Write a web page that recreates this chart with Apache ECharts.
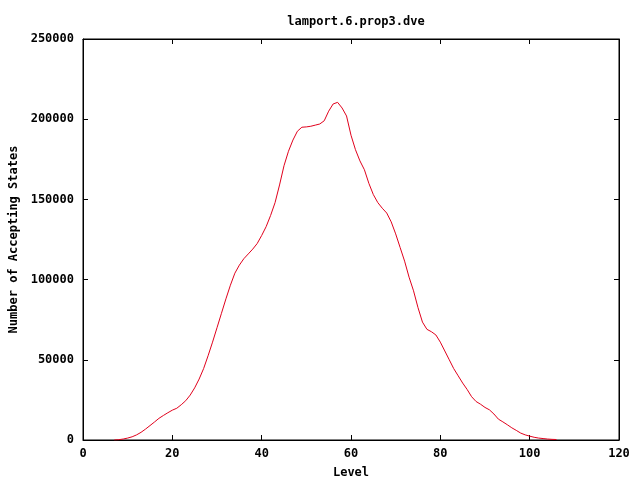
<!DOCTYPE html>
<html><head><meta charset="utf-8">
<script src="https://cdn.jsdelivr.net/npm/echarts@6/dist/echarts.min.js"></script>
<style>html,body{margin:0;padding:0;background:#fff}#c{width:640px;height:480px}</style>
</head><body><div id="c"></div>
<script>
var titleText = 'lamport.6.prop3.dve';
var xName = 'Level';
var yName = 'Number of Accepting States';
var levels = [7,8,9,10,11,12,13,14,15,16,17,18,19,20,21,22,23,24,25,26,27,28,29,30,31,32,33,34,35,36,37,38,39,40,41,42,43,44,45,46,47,48,49,50,51,52,53,54,55,56,57,58,59,60,61,62,63,64,65,66,67,68,69,70,71,72,73,74,75,76,77,78,79,80,81,82,83,84,85,86,87,88,89,90,91,92,93,94,95,96,97,98,99,100,101,102,103,104,105,106];
var states = [0,200,600,1200,2000,3200,4800,6800,9000,11200,13500,15300,17000,18600,19800,22000,24500,28000,32500,38000,44500,52500,61000,70000,79000,88000,96500,104000,109000,113000,116000,119000,122500,127500,133000,140000,148000,159000,171000,180000,187000,192500,195000,195200,195600,196300,197000,199000,205000,209500,210500,207000,202000,190000,181000,174000,168500,160000,153000,148000,144500,141500,136000,128500,120000,111500,101500,93000,82500,73500,69000,67500,65500,61000,55500,50000,44500,40000,35500,31500,27000,24000,22300,20300,18800,16200,13000,11300,9500,7600,6000,4300,3200,2400,1700,1200,900,600,400,300];
var xMin = 0, xMax = 120, xStep = 20;
var yMin = 0, yMax = 250000, yStep = 50000;

var data = levels.map(function(l, i){ return [l, states[i]]; });
var font = 'DejaVu Sans Mono';
var lab = {fontFamily: font, fontWeight: 'bold', fontSize: 12, color: '#000'};
var plain = function(v){ return String(v); };
var tick = {show: true, inside: true, length: 5, lineStyle: {color: '#000'}};
var line = {show: true, onZero: false, lineStyle: {color: '#000', width: 1}};
var chart = echarts.init(document.getElementById('c'), null, {renderer: 'canvas'});
chart.setOption({
  animation: false,
  backgroundColor: '#fff',
  title: {text: titleText, left: 351, top: 11, textAlign: 'center',
    textStyle: {fontFamily: font, fontWeight: 'bold', fontSize: 12, color: '#000'}},
  grid: {left: 83, right: 21, top: 39, bottom: 40, show: true, borderColor: '#000', borderWidth: 1,
    containLabel: false, outerBoundsMode: 'none'},
  xAxis: [{
    type: 'value', min: xMin, max: xMax, interval: xStep, position: 'bottom',
    name: xName, nameLocation: 'middle', nameGap: 27, nameTextStyle: lab,
    axisLine: line, axisTick: tick,
    axisLabel: Object.assign({margin: 8, formatter: plain}, lab),
    splitLine: {show: false}
  }, {
    type: 'value', min: xMin, max: xMax, interval: xStep, position: 'top',
    axisLine: line, axisTick: tick,
    axisLabel: {show: false}, splitLine: {show: false}
  }],
  yAxis: [{
    type: 'value', min: yMin, max: yMax, interval: yStep, position: 'left',
    name: yName, nameLocation: 'middle', nameGap: 62, nameRotate: 90, nameTextStyle: lab,
    axisLine: line, axisTick: tick,
    axisLabel: Object.assign({margin: 9, formatter: plain}, lab),
    splitLine: {show: false}
  }, {
    type: 'value', min: yMin, max: yMax, interval: yStep, position: 'right',
    axisLine: line, axisTick: tick,
    axisLabel: {show: false}, splitLine: {show: false}
  }],
  series: [{
    type: 'line', data: data, xAxisIndex: 0, yAxisIndex: 0,
    showSymbol: false, symbol: 'none', smooth: false,
    lineStyle: {color: '#e0001c', width: 1}
  }]
});
</script></body></html>
